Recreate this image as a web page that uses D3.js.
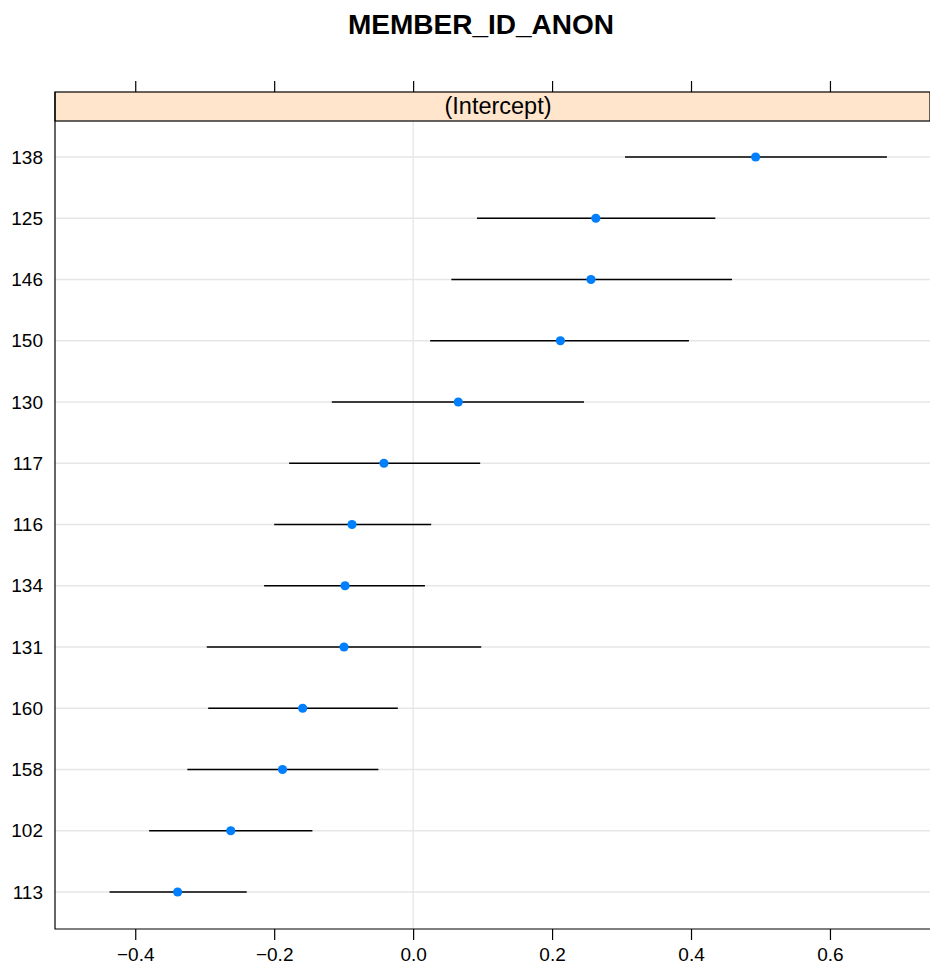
<!DOCTYPE html>
<html><head><meta charset="utf-8">
<script src="https://cdn.jsdelivr.net/npm/d3@7"></script>
<style>body{margin:0;background:#fff}svg{display:block}text{font-family:"Liberation Sans",Arial,sans-serif}</style>
</head><body>
<svg id="c" width="930" height="968"></svg>
<script>
const categories = ["138","125","146","150","130","117","116","134","131","160","158","102","113"];
const estimates  = [0.493, 0.263, 0.256, 0.212, 0.065, -0.042, -0.088, -0.098, -0.0995, -0.159, -0.188, -0.2625, -0.339];
const lower      = [0.305, 0.092, 0.055, 0.0245, -0.117, -0.1785, -0.200, -0.2145, -0.297, -0.295, -0.325, -0.380, -0.437];
const upper      = [0.682, 0.435, 0.459, 0.397, 0.246, 0.0965, 0.026, 0.017, 0.098, -0.022, -0.050, -0.145, -0.2395];
const xTicks     = [-0.4, -0.2, 0.0, 0.2, 0.4, 0.6];
const titleText  = "MEMBER_ID_ANON";
const stripText  = "(Intercept)";

(function () {
const svg = d3.select("#c");
const L = 55, R = 930, T = 92, SB = 121, B = 929;
const x = d3.scaleLinear().domain([-0.5155, 0.744]).range([L, R]);
const y = d3.scalePoint().domain(categories).range([157, 892]);

svg.append("text").attr("x", 481).attr("y", 34).attr("text-anchor", "middle")
  .attr("font-size", 28).attr("font-weight", "bold").text(titleText);

const g = svg.append("g");
g.selectAll("line.h").data(categories).join("line")
  .attr("x1", L).attr("x2", R).attr("y1", d => y(d)).attr("y2", d => y(d))
  .attr("stroke", "#e6e6e6").attr("stroke-width", 1.3);
g.append("line").attr("x1", x(0)).attr("x2", x(0)).attr("y1", SB).attr("y2", B)
  .attr("stroke", "#e6e6e6").attr("stroke-width", 1.3);

svg.append("rect").attr("x", L).attr("y", T).attr("width", R - L).attr("height", SB - T)
  .attr("fill", "#ffe5cc").attr("stroke", "#000").attr("stroke-width", 1.2);
svg.append("text").attr("x", 498).attr("y", 114).attr("text-anchor", "middle")
  .attr("font-size", 23.5).text(stripText);

const data = categories.map((c, i) => ({c, e: estimates[i], lo: lower[i], hi: upper[i]}));
svg.append("g").selectAll("line").data(data).join("line")
  .attr("x1", d => x(d.lo)).attr("x2", d => x(d.hi))
  .attr("y1", d => y(d.c)).attr("y2", d => y(d.c))
  .attr("stroke", "#000").attr("stroke-width", 1.5);
svg.append("g").selectAll("circle").data(data).join("circle")
  .attr("cx", d => x(d.e)).attr("cy", d => y(d.c)).attr("r", 4.6)
  .attr("fill", "#0080ff");

svg.append("path").attr("d", `M${L},${T}V${B}H${R}`).attr("fill", "none")
  .attr("stroke", "#000").attr("stroke-width", 1.2);

const fmt = d => d3.format(".1f")(d).replace("-", "\u2212");
const axB = svg.append("g").attr("transform", `translate(0,${B})`)
  .call(d3.axisBottom(x).tickValues(xTicks).tickSize(11).tickPadding(8).tickFormat(fmt));
const axT = svg.append("g").attr("transform", `translate(0,${T})`)
  .call(d3.axisTop(x).tickValues(xTicks).tickSize(11).tickFormat(""));
const axL = svg.append("g").attr("transform", `translate(${L},0)`)
  .call(d3.axisLeft(y).tickSize(0).tickPadding(12));
[axB, axT, axL].forEach(a => {
  a.select(".domain").remove();
  a.selectAll("line").attr("stroke", "#000").attr("stroke-width", 1.2);
  a.selectAll("text").attr("font-size", 19).attr("fill", "#000")
    .attr("font-family", '"Liberation Sans",Arial,sans-serif');
});
})();
</script>
</body></html>
